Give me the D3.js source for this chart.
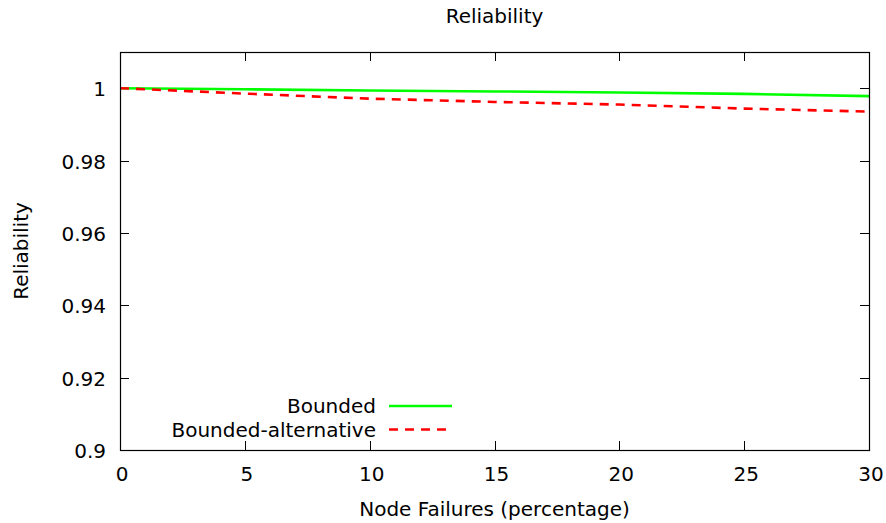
<!DOCTYPE html>
<html>
<head>
<meta charset="utf-8">
<script src="https://cdn.jsdelivr.net/npm/d3@7"></script>
<style>
  body { margin: 0; background: #fff; }
  text { font-family: "DejaVu Sans", sans-serif; font-size: 20px; fill: #000; }
</style>
</head>
<body>
<div id="chart"></div>
<script>
// node failure percentages
var failures = [0, 5, 10, 15, 20, 25, 30]
var bounded = [1.0, 0.9997, 0.99936, 0.9991, 0.9988, 0.99842, 0.9978]
var boundedAlt = [1.0, 0.9985, 0.9971, 0.9962, 0.99547, 0.99436, 0.99353]

var xTicks = [0, 5, 10, 15, 20, 25, 30]
var yTicks = [0.9, 0.92, 0.94, 0.96, 0.98, 1]

var w = 886
var h = 523
var plotLeft = 120, plotRight = 869, plotTop = 52, plotBottom = 450
var tickLen = 9

var svg = d3.select('#chart').append('svg')
  .attr('width', w)
  .attr('height', h)

var x = d3.scaleLinear().domain([0, 30]).range([plotLeft, plotRight])
var y = d3.scaleLinear().domain([0.9, 1.01]).range([plotBottom, plotTop])

// ticks, inward on all four sides
var axes = svg.append('g').attr('stroke', '#000').attr('stroke-width', 1)
xTicks.forEach(function(t) {
  if (t == 0 || t == 30) return
  var px = Math.round(x(t)) + 0.5
  axes.append('line').attr('x1', px).attr('x2', px).attr('y1', plotBottom).attr('y2', plotBottom - tickLen)
  axes.append('line').attr('x1', px).attr('x2', px).attr('y1', plotTop).attr('y2', plotTop + tickLen)
})
yTicks.forEach(function(t) {
  if (t == 0.9) return
  var py = Math.round(y(t)) + 0.5
  axes.append('line').attr('x1', plotLeft).attr('x2', plotLeft + tickLen).attr('y1', py).attr('y2', py)
  axes.append('line').attr('x1', plotRight).attr('x2', plotRight - tickLen).attr('y1', py).attr('y2', py)
})

// tick labels
svg.append('g').selectAll('text').data(xTicks).enter().append('text')
  .attr('x', function(d) { return x(d) + 2 })
  .attr('y', 481)
  .attr('text-anchor', 'middle')
  .text(function(d) { return d })

svg.append('g').selectAll('text').data(yTicks).enter().append('text')
  .attr('x', 106)
  .attr('y', function(d) { return y(d) + 8 })
  .attr('text-anchor', 'end')
  .text(function(d) { return d3.format('~g')(d) })

// series
var line = d3.line()
  .x(function(d, i) { return x(failures[i]) })
  .y(function(d) { return y(d) })

svg.append('path')
  .datum(bounded)
  .attr('d', line)
  .attr('fill', 'none')
  .attr('stroke', '#00ff00')
  .attr('stroke-width', 2.6)

svg.append('path')
  .datum(boundedAlt)
  .attr('d', line)
  .attr('fill', 'none')
  .attr('stroke', '#ff0000')
  .attr('stroke-width', 2.6)
  .attr('stroke-dasharray', '9,7')

// frame
svg.append('rect')
  .attr('x', plotLeft + 0.5)
  .attr('y', plotTop + 0.5)
  .attr('width', plotRight - plotLeft)
  .attr('height', plotBottom - plotTop)
  .attr('fill', 'none')
  .attr('stroke', '#000')
  .attr('stroke-width', 1.2)

// legend
var legend = [
  { name: 'Bounded', color: '#00ff00', dash: null, y: 406 },
  { name: 'Bounded-alternative', color: '#ff0000', dash: '9,7', y: 429.5 }
]
legend.forEach(function(l) {
  svg.append('text')
    .attr('x', 376)
    .attr('y', l.y + 7)
    .attr('text-anchor', 'end')
    .text(l.name)
  svg.append('line')
    .attr('x1', 389).attr('x2', 452)
    .attr('y1', l.y).attr('y2', l.y)
    .attr('stroke', l.color)
    .attr('stroke-width', 2.6)
    .attr('stroke-dasharray', l.dash)
})

// titles
svg.append('text')
  .attr('x', (plotLeft + plotRight) / 2)
  .attr('y', 23)
  .attr('text-anchor', 'middle')
  .text('Reliability')

svg.append('text')
  .attr('x', (plotLeft + plotRight) / 2)
  .attr('y', 516)
  .attr('text-anchor', 'middle')
  .text('Node Failures (percentage)')

svg.append('text')
  .attr('transform', 'translate(28,' + (plotTop + plotBottom) / 2 + ') rotate(-90)')
  .attr('text-anchor', 'middle')
  .text('Reliability')
</script>
</body>
</html>
